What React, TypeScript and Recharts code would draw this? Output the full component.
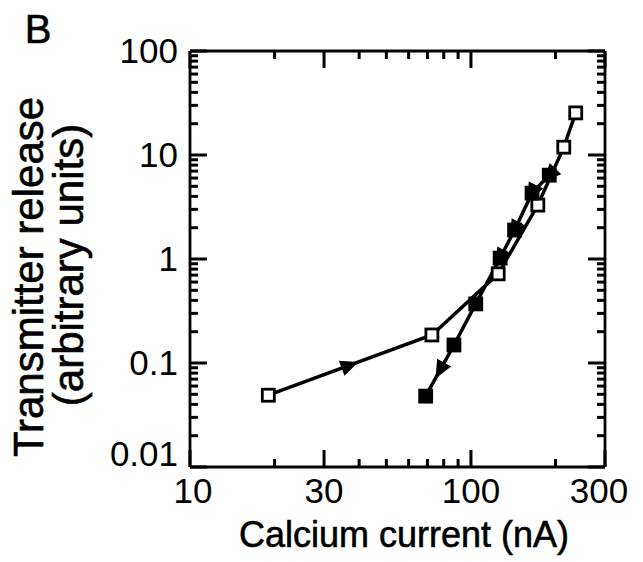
import { LineChart, Line, XAxis, YAxis, ReferenceLine } from 'recharts';

// Release vs. calcium current, log-log. Open squares: rising current, filled: falling.
const openCurrent = [19, 72.6, 125, 173, 214, 236];
const openRelease = [0.049, 0.186, 0.72, 3.3, 11.9, 25.4];
const filledCurrent = [190, 165, 143, 127, 104, 87, 69];
const filledRelease = [6.4, 4.3, 1.9, 1.02, 0.37, 0.149, 0.048];

const xMajorTicks = [10, 30, 100, 300];
const xMinorTicks = [20, 40, 50, 60, 70, 80, 90, 200];
const yMajorTicks = [0.01, 0.1, 1, 10, 100];
const yMinorSteps = [2, 3, 4, 5, 6, 7, 8, 9];

// arrowheads: segment midpoints, or sitting on a point, pointing to the next point
const openArrowSegments = [0];
const filledArrowSegments = [5];
const filledArrowPoints = [0, 1, 2, 3];

const openData = openCurrent.map((x, i) => ({ x, y: openRelease[i] }));
const filledData = filledCurrent.map((x, i) => ({ x, y: filledRelease[i] }));

const yMinorTicks = yMajorTicks.slice(0, -1).flatMap((d) => yMinorSteps.map((k) => d * k));
const xTicks = [...xMajorTicks, ...xMinorTicks].sort((a, b) => a - b);
const yTicks = [...yMajorTicks, ...yMinorTicks].sort((a, b) => a - b);

const X_DOMAIN = [10, 300];
const Y_DOMAIN = [0.01, 100];

const W = 643;
const H = 562;
const MARGIN = { top: 51, right: 38, bottom: 65, left: 130 };
const Y_AXIS_W = 60;
const X_AXIS_H = 30;
const PLOT_TOP = MARGIN.top;
const PLOT_RIGHT = W - MARGIN.right;

const FONT = '"Liberation Sans", Arial, Helvetica, sans-serif';
const INK = 'black';
const MAJOR_LEN = 17;
const MINOR_LEN = 8;

// small nudges so edge labels don't collide
const xLabelShift: Record<number, number> = { 10: 3, 300: -6 };
const yLabelShift: Record<number, number> = { 0.01: -13 };

const majorOf = (list: number[], v: number) => list.find((m) => Math.abs(m - v) < 1e-9);

// inward tick on the bottom edge, mirrored on the top edge, plus the label
const BottomTick = (props: any) => {
  const { x, y, payload } = props;
  const m = majorOf(xMajorTicks, payload.value);
  const len = m !== undefined ? MAJOR_LEN : MINOR_LEN;
  return (
    <g>
      <path d={`M${x},${y}L${x},${y - len}`} stroke="black" strokeWidth={3} />
      <path d={`M${x},${PLOT_TOP}L${x},${PLOT_TOP + len}`} stroke="black" strokeWidth={3} />
      {m !== undefined && (
        <text x={x + (xLabelShift[m] || 0)} y={y + 36} textAnchor="middle" fontSize={35} fontFamily={FONT} fill="black">
          {m}
        </text>
      )}
    </g>
  );
};

// inward tick on the left edge, mirrored on the right edge, plus the label
const LeftTick = (props: any) => {
  const { x, y, payload } = props;
  const m = majorOf(yMajorTicks, payload.value);
  const len = m !== undefined ? MAJOR_LEN : MINOR_LEN;
  return (
    <g>
      <path d={`M${x},${y}L${x + len},${y}`} stroke="black" strokeWidth={3} />
      <path d={`M${PLOT_RIGHT},${y}L${PLOT_RIGHT - len},${y}`} stroke="black" strokeWidth={3} />
      {m !== undefined && (
        <text x={x - 12} y={y + 12 + (yLabelShift[m] || 0)} textAnchor="end" fontSize={35} fontFamily={FONT} fill="black">
          {String(m)}
        </text>
      )}
    </g>
  );
};

const Arrowhead = ({ cx, cy, toX, toY }: { cx: number; cy: number; toX: number; toY: number }) => {
  const ang = Math.atan2(toY - cy, toX - cx);
  const len = 18;
  const half = 8;
  const c = Math.cos(ang);
  const s = Math.sin(ang);
  const tipX = cx + (c * len) / 2;
  const tipY = cy + (s * len) / 2;
  const bx = cx - (c * len) / 2;
  const by = cy - (s * len) / 2;
  return (
    <polygon
      points={`${tipX},${tipY} ${bx - s * half},${by + c * half} ${bx + s * half},${by - c * half}`}
      fill={INK}
    />
  );
};

const makeMarker = (filled: boolean, segs: number[], onPoints: number[]) => (props: any) => {
  const { cx, cy, index, points } = props;
  const next = points && points[index + 1];
  const size = 12;
  return (
    <g key={`m-${filled ? 'f' : 'o'}-${index}`}>
      {next && segs.includes(index) && (
        <Arrowhead cx={(cx + next.x) / 2} cy={(cy + next.y) / 2} toX={next.x} toY={next.y} />
      )}
      {next && onPoints.includes(index) && <Arrowhead cx={cx} cy={cy} toX={next.x} toY={next.y} />}
      <rect
        x={cx - size / 2}
        y={cy - size / 2}
        width={size}
        height={size}
        fill={filled ? INK : '#fff'}
        stroke={INK}
        strokeWidth={2.8}
      />
    </g>
  );
};

const frame = { stroke: INK, strokeWidth: 2.8 };

const titleBase: any = {
  position: 'absolute',
  fontFamily: FONT,
  lineHeight: 1,
  whiteSpace: 'nowrap',
  color: '#000',
  WebkitTextStroke: '0.6px #000',
};

export default function App() {
  return (
    <div style={{ position: 'absolute', left: 0, top: 0, width: W, height: H, background: '#fff' }}>
      <LineChart width={W} height={H} margin={MARGIN}>
        <XAxis
          xAxisId="b"
          type="number"
          dataKey="x"
          scale="log"
          domain={X_DOMAIN}
          ticks={xTicks}
          interval={0}
          height={X_AXIS_H}
          tickSize={0}
          tickMargin={0}
          axisLine={frame}
          tickLine={false}
          tick={<BottomTick />}
        />
        <YAxis
          yAxisId="l"
          type="number"
          dataKey="y"
          scale="log"
          domain={Y_DOMAIN}
          ticks={yTicks}
          interval={0}
          width={Y_AXIS_W}
          tickSize={0}
          tickMargin={0}
          axisLine={frame}
          tickLine={false}
          tick={<LeftTick />}
        />
        {/* top and right edges of the box */}
        <ReferenceLine xAxisId="b" yAxisId="l" y={Y_DOMAIN[1]} stroke={INK} strokeWidth={2.8} />
        <ReferenceLine xAxisId="b" yAxisId="l" x={X_DOMAIN[1]} stroke={INK} strokeWidth={2.8} />
        <Line
          xAxisId="b"
          yAxisId="l"
          data={openData}
          dataKey="y"
          stroke={INK}
          strokeWidth={3.5}
          type="linear"
          dot={makeMarker(false, openArrowSegments, [])}
          activeDot={false}
          isAnimationActive={false}
        />
        <Line
          xAxisId="b"
          yAxisId="l"
          data={filledData}
          dataKey="y"
          stroke={INK}
          strokeWidth={3.5}
          type="linear"
          dot={makeMarker(true, filledArrowSegments, filledArrowPoints)}
          activeDot={false}
          isAnimationActive={false}
        />
      </LineChart>
      <div style={{ ...titleBase, left: 38, top: 9, fontSize: 40, transform: 'translateX(-50%)' }}>B</div>
      <div style={{ ...titleBase, left: 404, top: 517, fontSize: 36, transform: 'translateX(-50%)' }}>
        Calcium current (nA)
      </div>
      <div
        style={{
          ...titleBase,
          left: 29,
          top: 277,
          fontSize: 42,
          transform: 'translate(-50%, -50%) rotate(-90deg)',
        }}
      >
        Transmitter release
      </div>
      <div
        style={{
          ...titleBase,
          left: 69,
          top: 265,
          fontSize: 42,
          transform: 'translate(-50%, -50%) rotate(-90deg)',
        }}
      >
        (arbitrary units)
      </div>
    </div>
  );
}
